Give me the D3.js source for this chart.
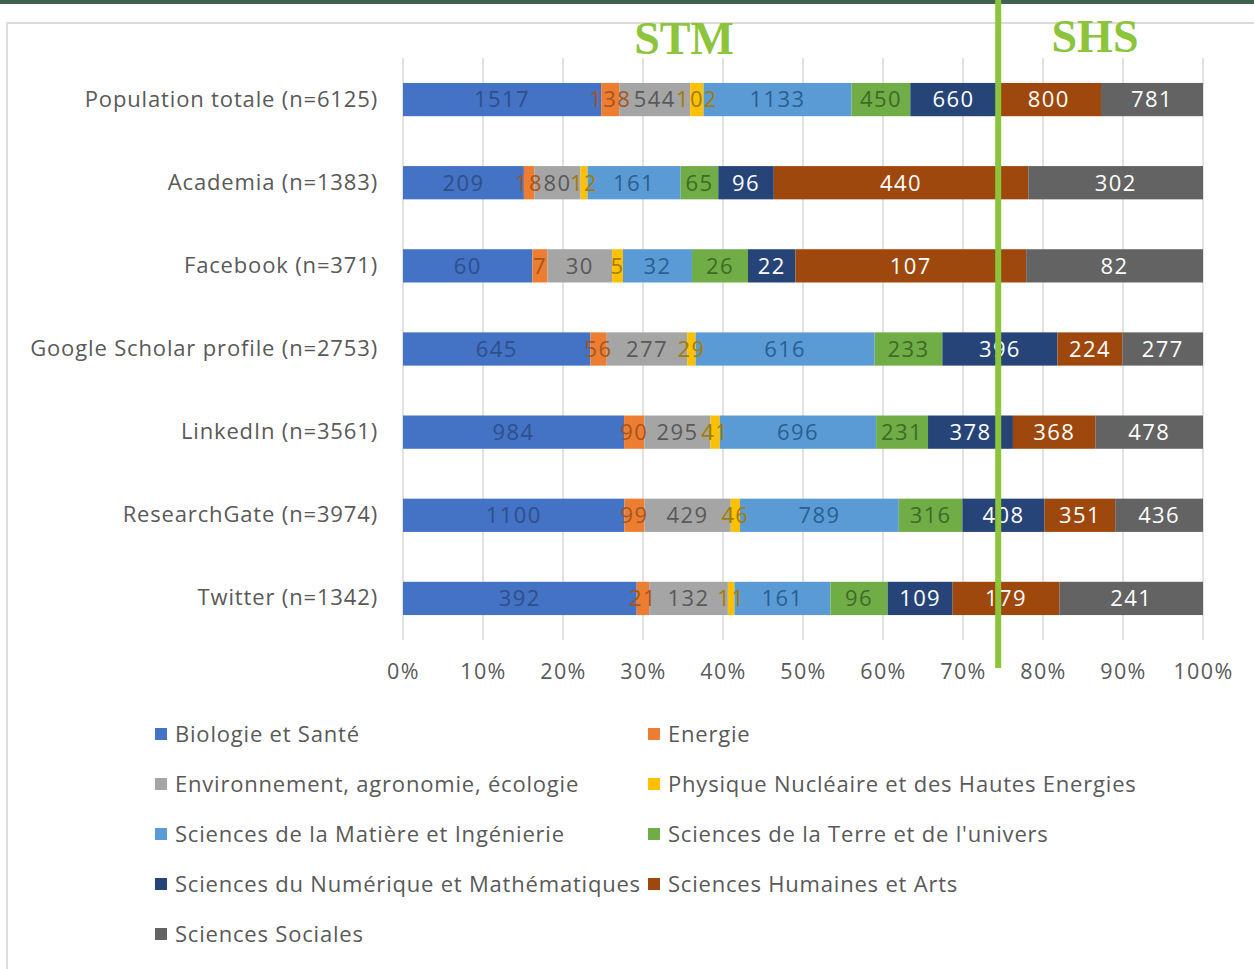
<!DOCTYPE html>
<html>
<head>
<meta charset="utf-8">
<script src="https://cdn.jsdelivr.net/npm/d3@7"></script>
<style>
  body { margin: 0; background: #fff; }
  svg { display: block; }
</style>
</head>
<body>
<div id="chart"></div>
<script>
const categories = ['Population totale (n=6125)', 'Academia (n=1383)', 'Facebook (n=371)',
  'Google Scholar profile (n=2753)', 'LinkedIn (n=3561)', 'ResearchGate (n=3974)', 'Twitter (n=1342)'];

const seriesNames = ['Biologie et Santé', 'Energie', 'Environnement, agronomie, écologie',
  'Physique Nucléaire et des Hautes Energies', 'Sciences de la Matière et Ingénierie',
  'Sciences de la Terre et de l\'univers', 'Sciences du Numérique et Mathématiques',
  'Sciences Humaines et Arts', 'Sciences Sociales'];

// one array per category, in series order
const populationTotale = [1517, 138, 544, 102, 1133, 450, 660, 800, 781];
const academia = [209, 18, 80, 12, 161, 65, 96, 440, 302];
const facebook = [60, 7, 30, 5, 32, 26, 22, 107, 82];
const googleScholar = [645, 56, 277, 29, 616, 233, 396, 224, 277];
const linkedin = [984, 90, 295, 41, 696, 231, 378, 368, 478];
const researchGate = [1100, 99, 429, 46, 789, 316, 408, 351, 436];
const twitter = [392, 21, 132, 11, 161, 96, 109, 179, 241];

const rows = [populationTotale, academia, facebook, googleScholar, linkedin, researchGate, twitter];
const xTicks = [0, 0.1, 0.2, 0.3, 0.4, 0.5, 0.6, 0.7, 0.8, 0.9, 1];
const boundary = 0.744; // STM / SHS separator, as share of the axis

const colors = ['#4472C4', '#ED7D31', '#A5A5A5', '#FFC000', '#5B9BD5', '#70AD47', '#264478', '#9E480E', '#636363'];
const labelColors = ['#2f4f8a', '#a5561f', '#595959', '#a37c00', '#2a5f8f', '#3f6a27', '#ffffff', '#ffffff', '#ffffff'];

const W = 1254, H = 969;
const svg = d3.select('#chart').append('svg').attr('width', W).attr('height', H);

// top band + frame
svg.append('rect').attr('x', 0).attr('y', 0).attr('width', W).attr('height', 4).attr('fill', '#41614f');
svg.append('rect').attr('x', 7).attr('y', 23).attr('width', W).attr('height', H)
  .attr('fill', '#fff').attr('stroke', '#dcdcdc').attr('stroke-width', 2);

const plot = { left: 403, right: 1203, top: 58, bottom: 640 };
const font = '"Open Sans", Lato, sans-serif';

const x = d3.scaleLinear().domain([0, 1]).range([plot.left, plot.right]);
const y = d3.scaleBand().domain(categories).range([plot.top, plot.bottom])
  .paddingInner(0.6).paddingOuter(0.3);

// gridlines
svg.append('g').selectAll('line').data(xTicks).join('line')
  .attr('x1', d => x(d)).attr('x2', d => x(d))
  .attr('y1', plot.top).attr('y2', plot.bottom)
  .attr('stroke', '#d9d9d9').attr('stroke-width', 1.5);

// x axis labels
const xAxis = svg.append('g').attr('transform', `translate(0,${plot.bottom})`)
  .call(d3.axisBottom(x).tickValues(xTicks).tickFormat(d3.format('.0%')).tickSize(0).tickPadding(24));
xAxis.select('.domain').remove();
xAxis.selectAll('text').attr('fill', '#595959').style('font-family', font).style('font-size', '21.5px')
  .style('letter-spacing', '1.4px');

// category labels
const yAxis = svg.append('g').attr('transform', `translate(${plot.left},0)`)
  .call(d3.axisLeft(y).tickSize(0).tickPadding(25));
yAxis.select('.domain').remove();
yAxis.selectAll('text').attr('fill', '#595959').style('font-family', font).style('font-size', '22px')
  .style('letter-spacing', '0.85px');

// stacked segments
const segs = [];
rows.forEach((vals, i) => {
  const total = d3.sum(vals);
  let acc = 0;
  vals.forEach((v, s) => {
    segs.push({ cat: categories[i], s, v, x0: acc / total, x1: (acc + v) / total });
    acc += v;
  });
});

svg.append('g').selectAll('rect').data(segs).join('rect')
  .attr('x', d => x(d.x0)).attr('width', d => x(d.x1) - x(d.x0))
  .attr('y', d => y(d.cat)).attr('height', y.bandwidth())
  .attr('fill', d => colors[d.s]);

svg.append('g').selectAll('text').data(segs).join('text')
  .attr('x', d => (x(d.x0) + x(d.x1)) / 2)
  .attr('y', d => y(d.cat) + y.bandwidth() / 2)
  .attr('dy', '0.36em').attr('text-anchor', 'middle')
  .attr('fill', d => labelColors[d.s])
  .style('font-family', font).style('font-size', '22px').style('letter-spacing', '1.4px')
  .text(d => d.v);

// legend
const legend = svg.append('g');
const legendItems = legend.selectAll('g').data(seriesNames).join('g')
  .attr('transform', (d, i) => `translate(${i % 2 ? 648 : 155},${734 + Math.floor(i / 2) * 50})`);
legendItems.append('rect').attr('x', 0).attr('y', -6).attr('width', 12).attr('height', 12)
  .attr('fill', (d, i) => colors[i]);
legendItems.append('text').attr('x', 20).attr('dy', '0.36em')
  .attr('fill', '#595959').style('font-family', font).style('font-size', '22px')
  .style('letter-spacing', '0.8px')
  .text(d => d);

// STM / SHS separator
const sepX = x(boundary);
svg.append('rect').attr('x', sepX - 3).attr('y', 0).attr('width', 6).attr('height', 668).attr('fill', '#8cc43c');
svg.append('text').attr('x', 684).attr('y', 54).attr('text-anchor', 'middle')
  .attr('fill', '#8cc43c').style('font-family', '"Liberation Serif", serif').style('font-weight', 'bold')
  .style('font-size', '46px').text('STM');
svg.append('text').attr('x', 1095).attr('y', 52).attr('text-anchor', 'middle')
  .attr('fill', '#8cc43c').style('font-family', '"Liberation Serif", serif').style('font-weight', 'bold')
  .style('font-size', '46px').text('SHS');
</script>
</body>
</html>
